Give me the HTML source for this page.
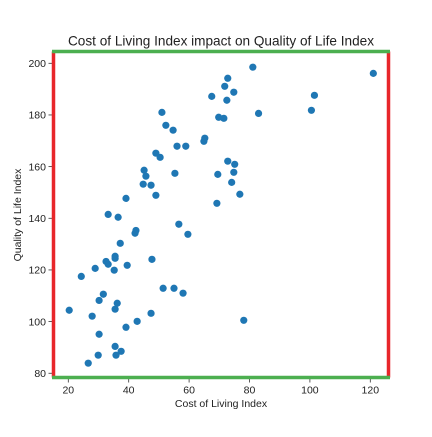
<!DOCTYPE html>
<html><head><meta charset="utf-8"><style>
body{margin:0;background:#fff;}
svg text{font-family:"Liberation Sans","DejaVu Sans",sans-serif;fill:#222;}
</style></head><body>
<svg width="432" height="432" viewBox="0 0 432 432">
<rect width="432" height="432" fill="#fff"/>
<text x="221" y="45.5" font-size="13.6" text-anchor="middle">Cost of Living Index impact on Quality of Life Index</text>
<g id="xticks"></g><g id="yticks"></g><g id="points"></g>
<line x1="53.5" y1="51.5" x2="53.5" y2="377.5" stroke="#e8262a" stroke-width="3.5"/>
<line x1="388.5" y1="51.5" x2="388.5" y2="377.5" stroke="#e8262a" stroke-width="3.5"/>
<line x1="52" y1="51.5" x2="390" y2="51.5" stroke="#4caf50" stroke-width="3.5"/>
<line x1="52" y1="377.5" x2="390" y2="377.5" stroke="#4caf50" stroke-width="3.5"/>
<text x="221" y="407" font-size="10.5" text-anchor="middle">Cost of Living Index</text>
<text x="0" y="0" font-size="10.5" text-anchor="middle" transform="translate(21,215) rotate(-90)">Quality of Life Index</text>
</svg>
<script>
const costOfLiving=[39.1,49.0,69.2,33.2,36.5,56.6,42.4,42.1,59.6,37.2,35.5,35.5,32.5,33.2,47.7,28.9,35.2,39.5,24.3,51.4,55.0,58.0,31.6,30.2,36.2,35.5,20.3,27.9,47.4,42.8,39.1,30.2,35.5,37.5,35.8,29.9,26.6,81.1,72.8,71.8,74.8,67.5,72.5,51.0,83.0,69.8,71.5,52.3,54.7,65.2,64.9,56.0,58.9,49.0,50.4,72.8,75.1,45.1,45.7,74.8,55.3,69.5,44.8,47.4,74.1,76.8,100.5,101.5,121.0,78.1];
const qualityOfLife=[147.7,148.9,145.8,141.5,140.4,137.7,135.3,134.2,133.8,130.3,125.3,124.5,123.3,122.2,124.1,120.6,119.9,121.8,117.5,112.9,112.9,111.0,110.6,108.2,107.1,104.8,104.4,102.1,103.2,100.1,97.8,95.1,90.4,88.5,87.0,87.0,83.9,198.5,194.2,191.1,188.8,187.2,185.7,181.0,180.6,179.1,178.7,176.0,174.1,171.0,169.8,167.9,167.9,165.2,163.6,162.1,160.9,158.6,156.3,157.8,157.4,157.0,153.2,152.8,153.9,149.3,181.8,187.6,196.1,100.5];
const xTickLabels=[20,40,60,80,100,120];
const yTickLabels=[80,100,120,140,160,180,200];
const NS="http://www.w3.org/2000/svg";
function xs(v){return 68.3+(v-20)*3.02;}
function ys(v){return 63.3+(200-v)*2.583;}
const gx=document.getElementById('xticks'),gy=document.getElementById('yticks'),gp=document.getElementById('points');
xTickLabels.forEach(v=>{
  const l=document.createElementNS(NS,'line');
  l.setAttribute('x1',xs(v));l.setAttribute('x2',xs(v));l.setAttribute('y1',379);l.setAttribute('y2',382.5);
  l.setAttribute('stroke','#333');l.setAttribute('stroke-width','0.8');
  
  
  gx.appendChild(l);
  const t=document.createElementNS(NS,'text');
  t.setAttribute('x',xs(v));t.setAttribute('y',393.5);t.setAttribute('font-size','10.5');t.setAttribute('text-anchor','middle');
  t.textContent=v;
  
  
  gx.appendChild(t);
});
yTickLabels.forEach(v=>{
  const l=document.createElementNS(NS,'line');
  l.setAttribute('x1',48.5);l.setAttribute('x2',52);l.setAttribute('y1',ys(v));l.setAttribute('y2',ys(v));
  l.setAttribute('stroke','#333');l.setAttribute('stroke-width','0.8');
  
  
  gy.appendChild(l);
  const t=document.createElementNS(NS,'text');
  t.setAttribute('x',46);t.setAttribute('y',ys(v)+3.7);t.setAttribute('font-size','10.5');t.setAttribute('text-anchor','end');
  t.textContent=v;
  
  
  gy.appendChild(t);
});
costOfLiving.forEach((c,i)=>{
  const p=document.createElementNS(NS,'circle');
  p.setAttribute('cx',xs(c));p.setAttribute('cy',ys(qualityOfLife[i]));p.setAttribute('r',3.6);p.setAttribute('fill','#1f77b4');
  
  
  gp.appendChild(p);
});
</script>
</body></html>
